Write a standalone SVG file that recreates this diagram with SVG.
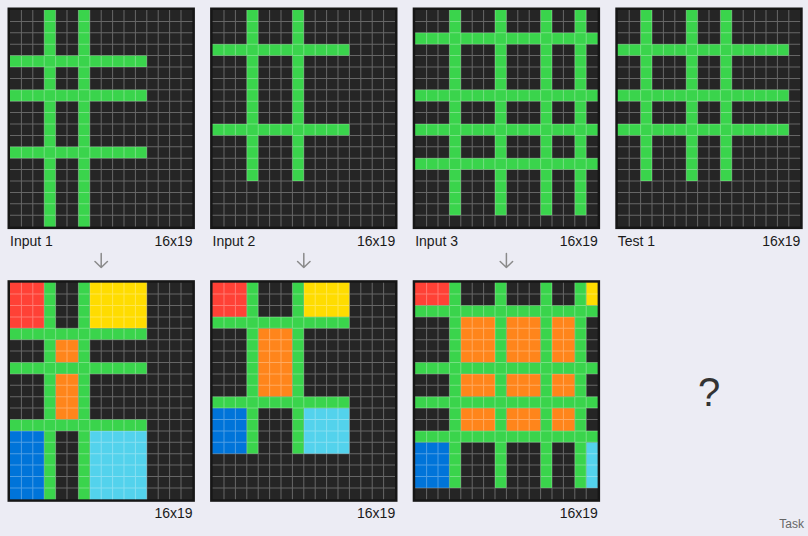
<svg xmlns="http://www.w3.org/2000/svg" xmlns:xlink="http://www.w3.org/1999/xlink" width="808" height="536" viewBox="0 0 808 536">
<style>
.bgr{fill:#ececf4}
.fr{fill:#161616}
.bg{fill:#252525}
.g{fill:#3ad44c}
.r{fill:#ff4136}
.y{fill:#ffdc00}
.o{fill:#ff851b}
.b{fill:#0074d9}
.c{fill:#53d2ec}
.gl{fill:none;stroke:#ffffff;stroke-opacity:0.3;stroke-width:0.088}
.lbl{font-family:"Liberation Sans",Arial,sans-serif;font-size:14px;fill:#1a1a1a}
.end{text-anchor:end}
.arr{fill:none;stroke:#8a8a8a;stroke-width:1.5;stroke-linecap:round;stroke-linejoin:round}
</style>
<defs>
<path id="lines" class="gl" d="M1 0V19M2 0V19M3 0V19M4 0V19M5 0V19M6 0V19M7 0V19M8 0V19M9 0V19M10 0V19M11 0V19M12 0V19M13 0V19M14 0V19M15 0V19M0 1H16M0 2H16M0 3H16M0 4H16M0 5H16M0 6H16M0 7H16M0 8H16M0 9H16M0 10H16M0 11H16M0 12H16M0 13H16M0 14H16M0 15H16M0 16H16M0 17H16M0 18H16"/>
</defs>
<rect class="bgr" x="0" y="0" width="808" height="536"/>

<g id="input1">
<rect class="fr" x="7.5" y="7.5" width="187.4" height="221.6"/>
<g transform="translate(10,10) scale(11.4)">
<rect class="bg" x="0" y="0" width="16" height="19"/>
<rect class="g" x="3" y="0" width="1" height="19"/>
<rect class="g" x="6" y="0" width="1" height="19"/>
<rect class="g" x="0" y="4" width="12" height="1"/>
<rect class="g" x="0" y="7" width="12" height="1"/>
<rect class="g" x="0" y="12" width="12" height="1"/>
<use xlink:href="#lines"/>
</g>
<text class="lbl" x="10" y="245.5">Input 1</text>
<text class="lbl end" x="192.6" y="245.5">16x19</text>
</g>

<g id="output1">
<rect class="fr" x="7.5" y="280.2" width="187.4" height="221.6"/>
<g transform="translate(10,282.7) scale(11.4)">
<rect class="bg" x="0" y="0" width="16" height="19"/>
<rect class="r" x="0" y="0" width="3" height="4"/>
<rect class="y" x="7" y="0" width="5" height="4"/>
<rect class="o" x="4" y="5" width="2" height="2"/>
<rect class="o" x="4" y="8" width="2" height="4"/>
<rect class="b" x="0" y="13" width="3" height="6"/>
<rect class="c" x="7" y="13" width="5" height="6"/>
<rect class="g" x="3" y="0" width="1" height="19"/>
<rect class="g" x="6" y="0" width="1" height="19"/>
<rect class="g" x="0" y="4" width="12" height="1"/>
<rect class="g" x="0" y="7" width="12" height="1"/>
<rect class="g" x="0" y="12" width="12" height="1"/>
<use xlink:href="#lines"/>
</g>
<text class="lbl end" x="192.6" y="518">16x19</text>
</g>

<g id="input2">
<rect class="fr" x="210.1" y="7.5" width="187.4" height="221.6"/>
<g transform="translate(212.6,10) scale(11.4)">
<rect class="bg" x="0" y="0" width="16" height="19"/>
<rect class="g" x="3" y="0" width="1" height="15"/>
<rect class="g" x="7" y="0" width="1" height="15"/>
<rect class="g" x="0" y="3" width="12" height="1"/>
<rect class="g" x="0" y="10" width="12" height="1"/>
<use xlink:href="#lines"/>
</g>
<text class="lbl" x="212.6" y="245.5">Input 2</text>
<text class="lbl end" x="395.2" y="245.5">16x19</text>
</g>

<g id="output2">
<rect class="fr" x="210.1" y="280.2" width="187.4" height="221.6"/>
<g transform="translate(212.6,282.7) scale(11.4)">
<rect class="bg" x="0" y="0" width="16" height="19"/>
<rect class="r" x="0" y="0" width="3" height="3"/>
<rect class="y" x="8" y="0" width="4" height="3"/>
<rect class="o" x="4" y="4" width="3" height="6"/>
<rect class="b" x="0" y="11" width="3" height="4"/>
<rect class="c" x="8" y="11" width="4" height="4"/>
<rect class="g" x="3" y="0" width="1" height="15"/>
<rect class="g" x="7" y="0" width="1" height="15"/>
<rect class="g" x="0" y="3" width="12" height="1"/>
<rect class="g" x="0" y="10" width="12" height="1"/>
<use xlink:href="#lines"/>
</g>
<text class="lbl end" x="395.2" y="518">16x19</text>
</g>

<g id="input3">
<rect class="fr" x="412.7" y="7.5" width="187.4" height="221.6"/>
<g transform="translate(415.2,10) scale(11.4)">
<rect class="bg" x="0" y="0" width="16" height="19"/>
<rect class="g" x="3" y="0" width="1" height="18"/>
<rect class="g" x="7" y="0" width="1" height="18"/>
<rect class="g" x="11" y="0" width="1" height="18"/>
<rect class="g" x="14" y="0" width="1" height="18"/>
<rect class="g" x="0" y="2" width="16" height="1"/>
<rect class="g" x="0" y="7" width="16" height="1"/>
<rect class="g" x="0" y="10" width="16" height="1"/>
<rect class="g" x="0" y="13" width="16" height="1"/>
<use xlink:href="#lines"/>
</g>
<text class="lbl" x="415.2" y="245.5">Input 3</text>
<text class="lbl end" x="597.8" y="245.5">16x19</text>
</g>

<g id="output3">
<rect class="fr" x="412.7" y="280.2" width="187.4" height="221.6"/>
<g transform="translate(415.2,282.7) scale(11.4)">
<rect class="bg" x="0" y="0" width="16" height="19"/>
<rect class="r" x="0" y="0" width="3" height="2"/>
<rect class="y" x="15" y="0" width="1" height="2"/>
<rect class="o" x="4" y="3" width="3" height="4"/>
<rect class="o" x="8" y="3" width="3" height="4"/>
<rect class="o" x="12" y="3" width="2" height="4"/>
<rect class="o" x="4" y="8" width="3" height="2"/>
<rect class="o" x="8" y="8" width="3" height="2"/>
<rect class="o" x="12" y="8" width="2" height="2"/>
<rect class="o" x="4" y="11" width="3" height="2"/>
<rect class="o" x="8" y="11" width="3" height="2"/>
<rect class="o" x="12" y="11" width="2" height="2"/>
<rect class="b" x="0" y="14" width="3" height="4"/>
<rect class="c" x="15" y="14" width="1" height="4"/>
<rect class="g" x="3" y="0" width="1" height="18"/>
<rect class="g" x="7" y="0" width="1" height="18"/>
<rect class="g" x="11" y="0" width="1" height="18"/>
<rect class="g" x="14" y="0" width="1" height="18"/>
<rect class="g" x="0" y="2" width="16" height="1"/>
<rect class="g" x="0" y="7" width="16" height="1"/>
<rect class="g" x="0" y="10" width="16" height="1"/>
<rect class="g" x="0" y="13" width="16" height="1"/>
<use xlink:href="#lines"/>
</g>
<text class="lbl end" x="597.8" y="518">16x19</text>
</g>

<g id="test1">
<rect class="fr" x="615.3" y="7.5" width="187.4" height="221.6"/>
<g transform="translate(617.8,10) scale(11.4)">
<rect class="bg" x="0" y="0" width="16" height="19"/>
<rect class="g" x="2" y="0" width="1" height="15"/>
<rect class="g" x="6" y="0" width="1" height="15"/>
<rect class="g" x="9" y="0" width="1" height="15"/>
<rect class="g" x="0" y="3" width="15" height="1"/>
<rect class="g" x="0" y="7" width="15" height="1"/>
<rect class="g" x="0" y="10" width="15" height="1"/>
<use xlink:href="#lines"/>
</g>
<text class="lbl" x="617.8" y="245.5">Test 1</text>
<text class="lbl end" x="800.4" y="245.5">16x19</text>
</g>

<g id="test1-output">
<text x="709" y="406" text-anchor="middle" font-family="'Liberation Sans',Arial,sans-serif" font-size="40" fill="#333">?</text>
</g>

<g id="connectors">
<path class="arr" d="M101.2 253.5V267.5M95 261.5L101.2 267.5L107.4 261.5"/>
<path class="arr" d="M303.8 253.5V267.5M297.6 261.5L303.8 267.5L310 261.5"/>
<path class="arr" d="M506.4 253.5V267.5M500.2 261.5L506.4 267.5L512.6 261.5"/>
</g>

<text x="804" y="528" text-anchor="end" font-family="'Liberation Sans',Arial,sans-serif" font-size="12" fill="#666">Task</text>
</svg>
